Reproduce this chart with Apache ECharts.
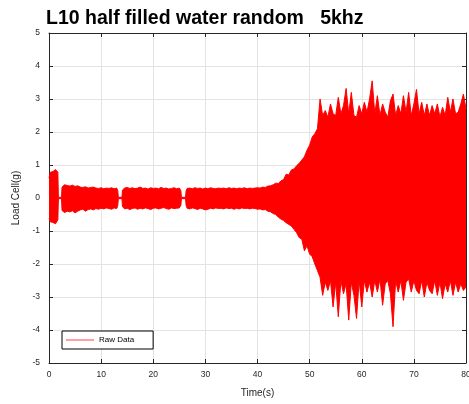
<!DOCTYPE html>
<html>
<head>
<meta charset="utf-8">
<script src="https://cdn.jsdelivr.net/npm/echarts@6/dist/echarts.min.js"></script>
<style>html,body{margin:0;padding:0;background:#fff}#c{width:469px;height:404px}</style>
</head>
<body>
<div id="c"></div>
<script>
// Time stamps (s) of the envelope samples
const timeS = [
  0, 0.25, 0.5, 0.75, 1.0, 1.25, 1.5, 1.7,
  1.8, 2.4,
  2.5, 3, 3.5, 4, 4.5, 5, 5.5, 6, 6.5, 7, 7.5, 8, 8.5, 9, 9.5, 10, 10.5, 11, 11.5, 12, 12.5, 13, 13.2,
  13.3, 14.0,
  14.1, 14.5, 15, 15.5, 16, 16.5, 17, 17.5, 18, 18.5, 19, 19.5, 20, 20.5, 21, 21.5, 22, 22.5, 23, 23.5, 24, 24.5, 25, 25.3,
  25.4, 26.2,
  26.3, 26.5, 27, 27.5, 28, 28.5, 29, 29.5, 30, 30.5, 31, 31.5, 32, 32.5, 33, 33.5, 34, 34.5, 35, 35.5,
  36, 36.5, 37, 37.5, 38, 38.5, 39, 39.5, 40, 40.5, 41, 41.5, 42, 42.5, 43, 43.5, 44, 44.5, 45, 45.5,
  46, 46.5, 47, 47.5, 48, 48.5, 49, 49.5, 50, 50.5, 51, 51.5, 52, 52.5, 53, 53.5, 54, 54.5, 55, 55.5,
  56, 56.5, 57, 57.5, 58, 58.5, 59, 59.5, 60, 60.5, 61, 61.5, 62, 62.5, 63, 63.5, 64, 64.5, 65, 65.5,
  66, 66.5, 67, 67.5, 68, 68.5, 69, 69.5, 70, 70.5, 71, 71.5, 72, 72.5, 73, 73.5, 74, 74.5, 75, 75.5,
  76, 76.5, 77, 77.5, 78, 78.5, 79, 79.5, 80
];
// Upper envelope of the load-cell signal (g)
const upperG = [
  0.6, 0.78, 0.72, 0.8, 0.75, 0.86, 0.9, 0.78,
  0.02, 0.02,
  0.33, 0.4, 0.38, 0.36, 0.39, 0.35, 0.37, 0.33, 0.32, 0.34, 0.3, 0.32, 0.33, 0.3, 0.29, 0.31, 0.28, 0.3, 0.29, 0.31, 0.28, 0.3, 0.22,
  0.02, 0.02,
  0.24, 0.3, 0.32, 0.29, 0.31, 0.28, 0.3, 0.33, 0.29, 0.3, 0.27, 0.31, 0.29, 0.3, 0.28, 0.32, 0.29, 0.3, 0.27, 0.29, 0.31, 0.28, 0.3, 0.22,
  0.02, 0.02,
  0.22, 0.29, 0.3, 0.28, 0.31, 0.29, 0.3, 0.27, 0.3, 0.28, 0.31, 0.29, 0.28, 0.3, 0.29, 0.3, 0.28, 0.31, 0.29, 0.3,
  0.28, 0.3, 0.29, 0.31, 0.28, 0.3, 0.29, 0.3, 0.31, 0.3, 0.33, 0.32, 0.36, 0.37, 0.4, 0.45, 0.44, 0.52, 0.56, 0.72,
  0.7, 0.85, 0.88, 0.98, 1.05, 1.15, 1.25, 1.45, 1.6, 1.85, 1.95, 2.1, 3.0, 2.5, 2.65, 2.45, 2.85, 2.55, 2.5, 3.05,
  2.55, 2.8, 3.32, 2.55, 3.2, 2.5, 2.45, 2.8, 2.55, 2.9, 2.6, 3.0, 3.55, 2.55, 3.1, 2.5, 2.85, 2.6, 2.45, 2.95,
  3.15, 2.5, 2.8, 2.55, 3.1, 2.6, 3.2, 2.5, 2.85, 3.29, 2.55, 2.9, 2.5, 2.85, 2.5, 2.8, 2.55, 2.85, 2.45, 2.75,
  2.5, 3.05, 2.6, 3.0, 2.55, 2.6, 2.85, 3.15, 2.7
];
// Lower envelope of the load-cell signal (g)
const lowerG = [
  -0.62, -0.72, -0.68, -0.74, -0.7, -0.78, -0.73, -0.66,
  -0.02, -0.02,
  -0.38, -0.44, -0.4, -0.42, -0.39, -0.45, -0.4, -0.36, -0.34, -0.4, -0.35, -0.33, -0.36, -0.32, -0.34, -0.31, -0.33, -0.3, -0.32, -0.34, -0.3, -0.32, -0.22,
  -0.02, -0.02,
  -0.26, -0.33, -0.31, -0.35, -0.32, -0.3, -0.34, -0.31, -0.33, -0.3, -0.32, -0.35, -0.31, -0.3, -0.33, -0.31, -0.29, -0.32, -0.34, -0.3, -0.32, -0.31, -0.3, -0.22,
  -0.02, -0.02,
  -0.22, -0.31, -0.33, -0.3, -0.32, -0.35, -0.31, -0.33, -0.36, -0.34, -0.31, -0.33, -0.3, -0.32, -0.31, -0.33, -0.3, -0.32, -0.31, -0.34,
  -0.31, -0.33, -0.3, -0.32, -0.31, -0.33, -0.31, -0.32, -0.34, -0.33, -0.36, -0.35, -0.4, -0.42, -0.47, -0.5, -0.58, -0.64, -0.68, -0.75,
  -0.8, -0.85, -0.95, -1.05, -1.2, -1.25, -1.6, -1.45, -1.7, -1.78, -2.0, -2.2, -2.4, -2.95, -2.55, -2.8, -2.5, -3.3, -2.55, -3.6,
  -2.5, -2.9, -2.6, -3.7, -2.55, -2.95, -3.65, -2.5, -3.3, -2.5, -2.85, -2.55, -3.0, -2.5, -2.85, -2.45, -3.25, -2.6, -2.5, -2.9,
  -3.9, -2.5, -2.85, -2.5, -3.1, -2.55, -2.45, -2.85, -2.5, -2.8, -2.9, -2.5, -3.0, -2.55, -2.8, -2.9, -2.5, -2.95, -2.55, -3.05,
  -2.6, -2.85, -2.5, -2.95, -2.55, -2.85, -2.6, -2.8, -2.7
];
const xTicks = { min: 0, max: 80, step: 10 };
const yTicks = { min: -5, max: 5, step: 1 };

const upperData = timeS.map((t, i) => [t, upperG[i]]);
const lowerData = timeS.map((t, i) => [t, lowerG[i]]);

const FONT = "Arial, 'Liberation Sans', Helvetica, sans-serif";
const axisCol = '#262626';
const chart = echarts.init(document.getElementById('c'), null, { renderer: 'canvas' });
const baseX = {
  type: 'value', min: xTicks.min, max: xTicks.max, interval: xTicks.step, gridIndex: 0,
  axisLine: { show: true, onZero: false, lineStyle: { color: axisCol, width: 1 } },
  axisTick: { show: true, inside: true, length: 4, lineStyle: { color: axisCol } },
};
const baseY = {
  type: 'value', min: yTicks.min, max: yTicks.max, interval: yTicks.step, gridIndex: 0,
  axisLine: { show: true, onZero: false, lineStyle: { color: axisCol, width: 1 } },
  axisTick: { show: true, inside: true, length: 4, lineStyle: { color: axisCol } },
};
chart.setOption({
  animation: false,
  backgroundColor: '#ffffff',
  title: {
    text: 'L10 half filled water random   5khz',
    left: 46, top: 9, padding: 0,
    textStyle: { fontFamily: FONT, fontWeight: 'bold', fontSize: 19.5, color: '#000' }
  },
  legend: {
    data: [{ name: 'Raw Data', icon: 'path://M0,0L28,0L28,1L0,1Z', itemStyle: { color: '#ff4040' } }],
    left: 62, top: 331,
    orient: 'vertical',
    padding: [5, 19, 5, 4],
    itemWidth: 28, itemHeight: 9, itemGap: 4,
    symbolKeepAspect: true,
    backgroundColor: '#fff',
    borderColor: '#000', borderWidth: 1, borderRadius: 0,
    textStyle: { fontFamily: FONT, fontSize: 8, color: '#000' }
  },
  grid: { left: 49, right: 3, top: 33, bottom: 41, containLabel: false, outerBoundsMode: 'none' },
  xAxis: [
    Object.assign({}, baseX, {
      position: 'bottom',
      name: 'Time(s)', nameLocation: 'middle', nameGap: 25,
      nameTextStyle: { fontFamily: FONT, fontSize: 10, color: axisCol },
      axisLabel: { show: true, fontFamily: FONT, fontSize: 8.5, color: axisCol, margin: 7 },
      splitLine: { show: true, lineStyle: { color: '#e3e3e3', width: 1 } }
    }),
    Object.assign({}, baseX, {
      position: 'top',
      axisLabel: { show: false },
      splitLine: { show: false }
    })
  ],
  yAxis: [
    Object.assign({}, baseY, {
      position: 'left',
      name: 'Load Cell(g)', nameLocation: 'middle', nameGap: 22, nameRotate: 90,
      nameTextStyle: { fontFamily: FONT, fontSize: 10, color: axisCol },
      axisLabel: { show: true, fontFamily: FONT, fontSize: 8.5, color: axisCol, margin: 9, padding: [0, 0, 3, 0] },
      splitLine: { show: true, lineStyle: { color: '#e3e3e3', width: 1 } }
    }),
    Object.assign({}, baseY, {
      position: 'right',
      axisLabel: { show: false },
      splitLine: { show: false }
    })
  ],
  series: [
    {
      name: 'Raw Data', type: 'line', xAxisIndex: 0, yAxisIndex: 0,
      data: upperData, symbol: 'none', sampling: null, smooth: false,
      lineStyle: { color: '#ff0000', width: 1 },
      itemStyle: { color: '#ff0000' },
      areaStyle: { color: '#ff0000', opacity: 1 }
    },
    {
      name: 'Raw Data', type: 'line', xAxisIndex: 0, yAxisIndex: 0,
      data: lowerData, symbol: 'none', sampling: null, smooth: false,
      lineStyle: { color: '#ff0000', width: 1 },
      itemStyle: { color: '#ff0000' },
      areaStyle: { color: '#ff0000', opacity: 1 }
    }
  ]
});
</script>
</body>
</html>
